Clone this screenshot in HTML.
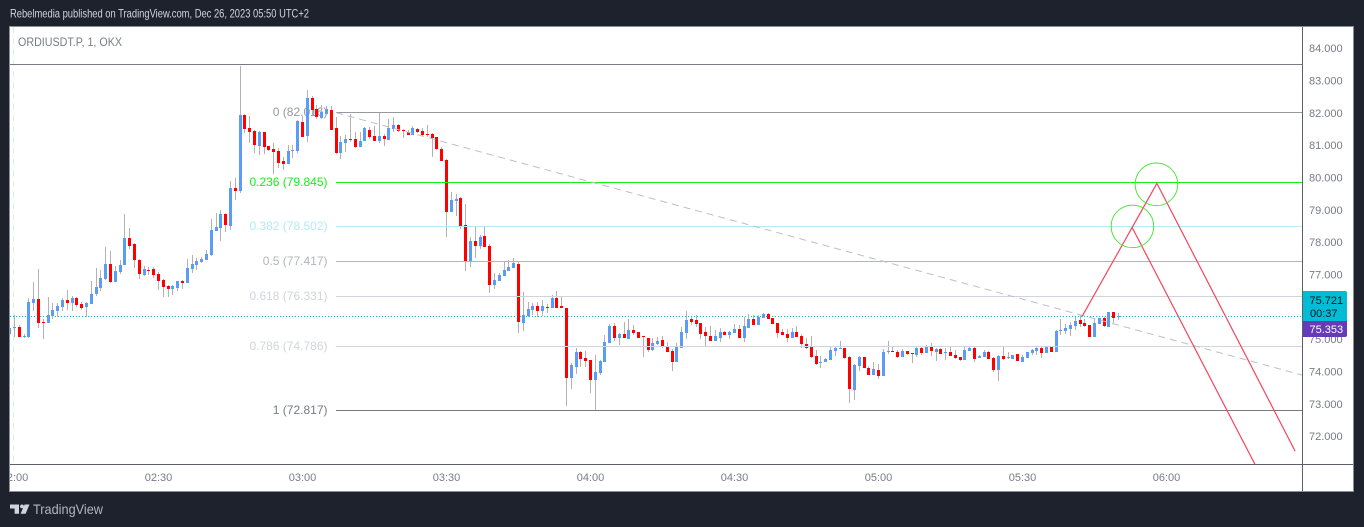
<!DOCTYPE html>
<html lang="en">
<head>
<meta charset="utf-8">
<title>ORDIUSDT.P chart</title>
<style>
  html,body{margin:0;padding:0;background:#1e222d;width:1364px;height:527px;overflow:hidden}
  svg{display:block;font-family:"Liberation Sans",sans-serif}
</style>
</head>
<body>
<svg id="chart" xmlns="http://www.w3.org/2000/svg" width="1364" height="527" viewBox="0 0 1364 527">
  <defs>
    <clipPath id="pane-clip"><rect x="10" y="27" width="1292" height="437"/></clipPath>
    <clipPath id="time-clip"><rect x="10" y="465" width="1292" height="26"/></clipPath>
  </defs>
  <rect x="0" y="0" width="1364" height="527" fill="#1e222d"/>
  <text x="10" y="17.5" font-size="12" fill="#d1d4dc" textLength="299" lengthAdjust="spacingAndGlyphs">Rebelmedia published on TradingView.com, Dec 26, 2023 05:50 UTC+2</text>
  <rect x="9.5" y="26.5" width="1344" height="465" fill="#ffffff" stroke="#8b8e98" stroke-width="1"/>
  <line x1="13.5" y1="27" x2="13.5" y2="464" stroke="#dcedf4" stroke-width="1" stroke-dasharray="6 5"/>
  <g id="fib-labels"></g>
  <g id="last-price-layer" clip-path="url(#pane-clip)"></g>
  <g id="candles" clip-path="url(#pane-clip)" shape-rendering="crispEdges"></g>
  <g id="fib-lines" clip-path="url(#pane-clip)" shape-rendering="crispEdges"></g>
  <g id="drawings" clip-path="url(#pane-clip)"></g>
  <text x="18" y="46" font-size="12" fill="#787b86" textLength="104" lengthAdjust="spacingAndGlyphs">ORDIUSDT.P, 1, OKX</text>
  <line x1="10" y1="464.5" x2="1353" y2="464.5" stroke="#5d606b" stroke-width="1"/>
  <line x1="1302.5" y1="27" x2="1302.5" y2="491" stroke="#5d606b" stroke-width="1"/>
  <g id="price-ticks"></g>
  <g id="time-ticks" clip-path="url(#time-clip)"></g>
  <g id="tags"></g>
  <g>
    <path d="M10 504.5h9v9.2h-4.4v-5.2H10z" fill="#d1d4dc"/>
    <circle cx="22" cy="506.4" r="1.9" fill="#d1d4dc"/>
    <path d="M24.6 504.5h4.9l-3.9 9.2h-5z" fill="#d1d4dc"/>
    <text x="33" y="514" font-size="14" fill="#b2b5be" textLength="70" lengthAdjust="spacingAndGlyphs">TradingView</text>
  </g>
</svg>
<script>
// ---- chart data ----
const barStartMinute = 119; // bar 0 = 01:59
const opens = [
75.17,75.36,75.38,75.08,75.09,76.13,76.25,75.54,75.52,75.73,
75.88,76.02,76.22,76.13,76.29,76.10,76.00,76.10,76.41,76.60,
76.87,77.34,76.78,77.09,77.31,78.14,77.96,77.46,77.00,77.15,
77.18,77.03,76.84,76.66,76.56,76.60,76.81,76.75,77.18,77.31,
77.40,77.46,77.62,78.36,78.45,78.89,78.51,79.69,79.60,81.95,
81.55,81.45,80.99,81.42,80.99,80.90,80.84,80.53,80.43,80.84,
80.84,81.73,81.30,82.48,82.14,81.86,81.98,82.11,81.55,80.77,
81.08,81.21,81.21,80.96,81.15,81.49,81.30,81.15,81.30,81.18,
81.52,81.64,81.49,81.42,81.33,81.52,81.46,81.36,81.36,81.27,
80.90,80.56,78.95,79.29,79.38,78.55,77.43,78.05,77.90,78.20,
77.90,76.69,76.81,76.97,77.12,77.21,77.34,75.51,75.73,75.91,
76.04,75.88,76.01,75.98,76.29,76.04,75.98,73.81,74.15,74.61,
74.43,74.37,73.75,73.96,74.30,74.89,75.42,75.05,75.17,75.02,
75.29,75.23,75.11,75.05,74.68,74.86,74.98,74.77,74.64,74.30,
74.74,75.20,75.63,75.60,75.51,75.23,75.11,74.95,75.05,75.23,
75.14,75.20,75.33,75.05,75.36,75.63,75.45,75.67,75.79,75.67,
75.51,75.23,75.17,75.05,75.23,75.11,74.86,74.77,74.49,74.27,
74.30,74.37,74.64,74.71,74.74,74.46,73.44,74.18,74.46,74.12,
73.90,74.06,73.87,74.61,74.64,74.61,74.46,74.64,74.58,74.52,
74.74,74.58,74.77,74.61,74.71,74.58,74.61,74.52,74.46,74.37,
74.64,74.74,74.43,74.46,74.61,74.43,74.06,74.49,74.43,74.40,
74.55,74.30,74.43,74.58,74.64,74.74,74.58,74.77,74.61,75.26,
75.26,75.33,75.42,75.60,75.51,75.45,75.08,75.48,75.67,75.39,
75.85,75.70];
const highs = [
75.40,75.76,75.45,75.17,76.27,76.78,77.18,75.62,76.32,76.13,
76.12,76.30,76.53,76.35,76.32,76.16,76.15,76.81,77.21,77.15,
77.86,77.74,77.28,77.46,78.89,78.45,77.99,77.49,77.28,77.25,
77.25,77.09,76.87,76.69,76.69,76.81,76.84,77.49,77.62,77.52,
77.55,77.77,78.73,78.92,79.01,78.92,79.91,80.00,83.47,81.98,
81.92,81.49,81.45,81.42,80.99,81.08,80.93,80.65,81.02,81.02,
81.80,81.92,82.72,82.54,82.26,82.26,82.23,82.23,81.89,81.30,
81.33,81.98,81.42,81.42,81.58,81.58,81.61,82.01,81.36,81.83,
81.89,81.67,81.52,81.49,81.61,81.55,81.55,81.64,81.39,81.27,
80.96,80.59,79.57,79.50,79.41,79.20,78.17,78.48,78.23,78.48,
77.96,77.06,77.06,77.40,77.46,77.52,77.40,76.47,76.16,76.13,
76.16,76.22,76.10,76.38,76.50,76.35,75.98,74.27,74.74,74.64,
74.64,74.37,74.52,74.37,75.14,75.48,75.51,75.20,75.54,75.63,
75.45,75.23,75.11,75.05,75.05,75.08,75.11,74.92,74.71,74.89,
75.39,75.88,75.70,75.76,75.51,75.39,75.42,75.29,75.36,75.26,
75.26,75.48,75.45,75.70,75.79,75.76,75.76,75.82,75.82,75.67,
75.51,75.33,75.33,75.36,75.42,75.17,75.05,75.11,74.68,74.49,
74.43,74.77,74.77,74.95,74.74,74.49,74.24,74.49,74.46,74.18,
74.30,74.24,74.71,74.95,74.77,74.68,74.71,74.64,74.58,74.77,
74.77,74.83,74.89,74.74,74.74,74.74,74.77,74.68,74.46,74.77,
74.77,74.77,74.52,74.67,74.64,74.46,74.52,74.77,74.61,74.52,
74.55,74.52,74.61,74.70,74.77,74.77,74.80,74.80,75.29,75.63,
75.48,75.54,75.70,75.76,75.63,75.45,75.63,75.67,75.70,75.85,
75.85,75.82];
const lows = [
75.14,75.07,75.07,75.04,75.04,75.89,75.37,75.03,75.52,75.62,
75.71,75.88,75.91,75.89,76.02,75.91,75.71,76.10,76.35,76.50,
76.84,76.75,76.78,77.03,77.31,77.80,77.21,76.87,76.97,77.00,
76.90,76.53,76.32,76.32,76.38,76.50,76.56,76.75,77.06,77.15,
77.37,77.46,77.59,78.36,78.05,78.33,78.39,79.32,79.54,81.39,
81.08,80.77,80.71,80.74,80.84,80.12,80.31,80.25,80.43,80.62,
80.77,81.27,81.11,81.95,81.83,81.83,81.98,81.49,80.74,80.59,
80.80,81.11,80.93,80.96,81.15,81.21,81.15,81.08,80.99,81.18,
81.42,81.42,81.24,81.33,81.33,81.39,81.30,81.27,80.65,80.87,
80.53,78.17,78.95,78.82,78.42,77.12,77.24,77.52,77.80,77.86,
76.44,76.56,76.81,76.97,77.12,77.21,75.20,75.26,75.70,75.76,
75.70,75.73,75.82,75.98,75.98,75.98,72.94,73.47,73.93,74.15,
74.15,73.34,72.82,73.90,74.30,74.89,74.95,74.83,75.05,75.02,
75.14,75.05,74.46,74.61,74.64,74.83,74.74,74.61,74.03,74.30,
74.74,75.02,75.45,75.39,75.02,74.80,74.95,74.95,74.92,75.14,
75.02,75.20,75.05,74.92,75.36,75.45,75.45,75.67,75.63,75.48,
75.05,75.14,74.92,75.05,75.08,74.74,74.71,74.43,74.21,74.12,
74.30,74.37,74.49,74.71,74.40,73.03,73.13,74.03,74.12,73.90,
73.90,73.78,73.87,74.55,74.61,74.43,74.46,74.52,74.27,74.46,
74.52,74.58,74.49,74.33,74.55,74.37,74.49,74.40,74.33,74.37,
74.64,74.30,74.43,74.46,74.40,73.99,73.72,74.37,74.40,74.40,
74.33,74.30,74.43,74.52,74.52,74.43,74.58,74.61,74.61,75.14,
75.17,75.11,75.29,75.39,75.39,75.08,75.08,75.48,75.39,75.39,
75.51,75.60];
const closes = [
75.35,75.38,75.09,75.11,76.16,76.25,75.52,75.51,75.76,75.90,
76.04,76.22,76.13,76.29,76.07,75.99,76.13,76.41,76.63,76.90,
77.34,76.78,77.12,77.31,78.14,77.90,77.46,77.03,77.18,77.12,
77.00,76.81,76.63,76.56,76.66,76.81,76.75,77.21,77.34,77.43,
77.49,77.65,78.39,78.48,78.89,78.55,79.69,79.60,81.95,81.52,
81.42,81.02,81.42,80.96,80.87,80.80,80.46,80.43,80.84,80.87,
81.76,81.27,82.48,82.11,81.89,82.04,82.14,81.49,80.77,81.11,
81.21,81.18,80.96,81.15,81.55,81.27,81.15,81.30,81.21,81.55,
81.64,81.46,81.46,81.33,81.55,81.42,81.33,81.33,81.24,80.90,
80.53,78.95,79.32,79.35,78.51,77.43,78.05,77.90,78.17,77.86,
76.69,76.84,77.00,77.15,77.24,77.37,75.54,75.76,75.94,76.04,
75.88,76.04,75.98,76.29,75.98,75.98,73.81,74.21,74.61,74.40,
74.34,73.75,74.00,74.34,74.92,75.42,75.05,75.17,75.05,75.29,
75.20,75.05,75.08,74.68,74.89,74.95,74.80,74.61,74.30,74.77,
75.23,75.60,75.54,75.48,75.17,75.11,74.95,75.11,75.23,75.14,
75.23,75.33,75.05,75.42,75.63,75.45,75.70,75.79,75.63,75.48,
75.20,75.14,75.05,75.23,75.08,74.86,74.74,74.46,74.24,74.30,
74.40,74.68,74.74,74.74,74.43,73.47,74.21,74.46,74.12,73.90,
74.09,73.87,74.61,74.64,74.61,74.46,74.64,74.55,74.55,74.74,
74.58,74.77,74.64,74.71,74.55,74.61,74.49,74.43,74.37,74.68,
74.74,74.40,74.49,74.61,74.40,74.06,74.49,74.40,74.46,74.52,
74.33,74.46,74.61,74.67,74.74,74.58,74.77,74.61,75.26,75.29,
75.36,75.45,75.57,75.48,75.42,75.08,75.51,75.67,75.42,75.85,
75.67,75.72];

const priceTicks = [84,83,82,81,80,79,78,77,76,75,74,73,72];
const timeTickLabels = ["02:00","02:30","03:00","03:30","04:00","04:30","05:00","05:30","06:00"];
const timeTickMinutes = [120,150,180,210,240,270,300,330,360];

const fibRatios = ["0","0.236","0.382","0.5","0.618","0.786","1"];
const fibPrices = [82.016,79.845,78.502,77.417,76.331,74.786,72.817];
const fibColors = ["#9598a1","#14f014","#b2ebf2","#b2b5be","#d1d4dc","#d1d4dc","#787b86"];
const fibStartBar = 68;
const fibTopPrice = 83.507;
const trendBars = [68,269.3];
const trendPrices = [82.016,73.9];

const lastPrice = 75.721;
const lastPriceLabel = "75.721";
const countdownLabel = "00:37";
const bidPriceLabel = "75.353";

const forecastABars = [223.4,239.0,267.8];
const forecastAPrices = [75.71,79.83,71.55];
const forecastBBars = [233.8,259.4];
const forecastBPrices = [78.48,71.15];
const circleBars = [238.9,233.9];
const circlePrices = [79.80,78.50];

// ---- axis functions ----
function xOfBar(i){ return 9.7 + 4.8 * i; }
function xOfMinute(m){ return xOfBar(m - barStartMinute); }
function yOfPrice(p){ return 182.9 + (79.845 - p) * 32.33; }

const NS = "http://www.w3.org/2000/svg";
function make(tag, parent, attrs){
  const el = document.createElementNS(NS, tag);
  for (const k in attrs) el.setAttribute(k, attrs[k]);
  parent.appendChild(el);
  return el;
}

// ---- candles ----
const candleLayer = document.getElementById("candles");
closes.forEach(function(c, i){
  const o = opens[i];
  const up = c >= o;
  const px = Math.floor(xOfBar(i));
  const top = Math.round(yOfPrice(Math.max(o, c)));
  const bot = Math.round(yOfPrice(Math.min(o, c)));
  const hi = Math.round(yOfPrice(highs[i]));
  const lo = Math.round(yOfPrice(lows[i]));
  const wick = make("rect", candleLayer, {x:px, y:hi, width:1, height:Math.max(1, lo-hi), fill:"#b2b2b2"});
  
  
  const body = make("rect", candleLayer, {x:px-1, y:top, width:3, height:Math.max(1, bot-top), fill: up ? "#5b9cf6" : "#ff0000"});
  
  
});

// ---- last price dotted line ----
const lastLayer = document.getElementById("last-price-layer");
const lastLine = make("line", lastLayer, {x1:10, x2:1302, y1:Math.floor(yOfPrice(lastPrice))+0.5, y2:Math.floor(yOfPrice(lastPrice))+0.5, stroke:"#00bcd4", "stroke-width":1, "stroke-dasharray":"1 2"});



// ---- fib levels ----
const fibLabelLayer = document.getElementById("fib-labels");
const fibLineLayer = document.getElementById("fib-lines");
const topLine = make("line", fibLineLayer, {x1:10, x2:1302, y1:Math.floor(yOfPrice(fibTopPrice))+0.5, y2:Math.floor(yOfPrice(fibTopPrice))+0.5, stroke:"#787b86", "stroke-width":1});


fibPrices.forEach(function(p, i){
  const y = Math.floor(yOfPrice(p)) + 0.5;
  const line = make("line", fibLineLayer, {x1:xOfBar(fibStartBar), x2:1302, y1:y, y2:y, stroke:fibColors[i], "stroke-width":1});
  
  
  const label = make("text", fibLabelLayer, {x:327.5, y:y+3.5, "text-anchor":"end", "font-size":12, fill:fibColors[i]});
  
  
  label.textContent = fibRatios[i] + " (" + p.toFixed(3) + ")";
});

// ---- drawings ----
const drawLayer = document.getElementById("drawings");
function polyPoints(bars, prices){
  return bars.map(function(b, k){ return xOfBar(b).toFixed(1) + "," + yOfPrice(prices[k]).toFixed(1); }).join(" ");
}
const trend = make("polyline", drawLayer, {points:polyPoints(trendBars, trendPrices), fill:"none", stroke:"#bcbfc8", "stroke-width":1, "stroke-dasharray":"7 5"});


const forecastA = make("polyline", drawLayer, {points:polyPoints(forecastABars, forecastAPrices), fill:"none", stroke:"#f2465c", "stroke-width":1.2});


const forecastB = make("polyline", drawLayer, {points:polyPoints(forecastBBars, forecastBPrices), fill:"none", stroke:"#f2465c", "stroke-width":1.2});


circleBars.forEach(function(b, i){
  const c = make("circle", drawLayer, {cx:xOfBar(b), cy:yOfPrice(circlePrices[i]), r:21.3, fill:"none", stroke:"#4de63c", "stroke-width":1});
  
  
});

// ---- axes ----
const priceLayer = document.getElementById("price-ticks");
priceTicks.forEach(function(p){
  const t = make("text", priceLayer, {x:1309, y:yOfPrice(p)+3.6, "font-size":11, fill:"#787b86"});
  
  
  t.textContent = p.toFixed(3);
});
const timeLayer = document.getElementById("time-ticks");
timeTickLabels.forEach(function(label, i){
  const t = make("text", timeLayer, {x:xOfMinute(timeTickMinutes[i]), y:481, "text-anchor":"middle", "font-size":11, fill:"#787b86"});
  
  
  t.textContent = label;
});

// ---- price tags ----
const tagLayer = document.getElementById("tags");
const lastTag = make("path", tagLayer, {d:"M1303 291h42a2 2 0 0 1 2 2v28h-44z", fill:"#00bcd4"});


const bidTag = make("path", tagLayer, {d:"M1303 321h44v14a2 2 0 0 1-2 2h-42z", fill:"#673ab7"});


const lastText = make("text", tagLayer, {x:1309.5, y:304, "font-size":11, fill:"#131722"});


lastText.textContent = lastPriceLabel;
const countText = make("text", tagLayer, {x:1310, y:317, "font-size":11, fill:"#131722"});


countText.textContent = countdownLabel;
const bidText = make("text", tagLayer, {x:1309.5, y:333, "font-size":11, fill:"#ffffff"});


bidText.textContent = bidPriceLabel;
</script>
</body>
</html>
